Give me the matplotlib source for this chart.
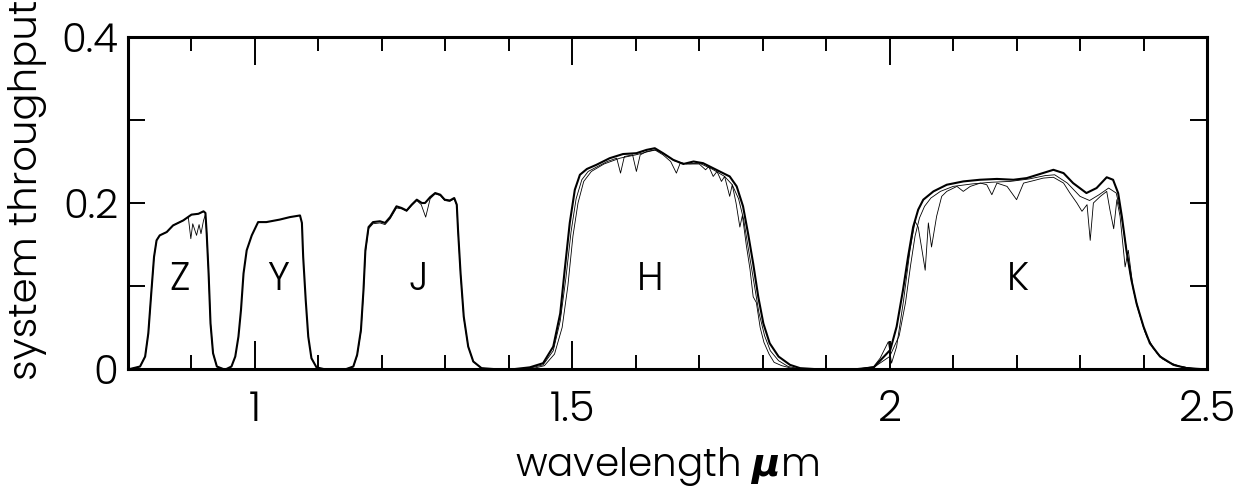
import matplotlib
matplotlib.use("Agg")
import matplotlib.pyplot as plt
from matplotlib.ticker import MultipleLocator

plt.rcParams["font.family"] = ["Poppins", "DejaVu Sans"]
plt.rcParams["font.weight"] = 300
plt.rcParams["mathtext.fontset"] = "dejavusans"

z_wl = [0.803, 0.819, 0.827, 0.832, 0.837, 0.841, 0.845, 0.850, 0.861, 0.871, 0.887, 0.900,
        0.911, 0.919, 0.922, 0.924, 0.927, 0.930, 0.934, 0.940, 0.950]
z_tp = [0.0, 0.003, 0.015, 0.043, 0.095, 0.135, 0.155, 0.161, 0.165, 0.173, 0.179, 0.186,
        0.187, 0.190, 0.188, 0.163, 0.115, 0.055, 0.019, 0.003, 0.0]
z_atm_wl = [0.803, 0.819, 0.827, 0.832, 0.837, 0.841, 0.845, 0.850, 0.861, 0.871, 0.887, 0.895,
            0.899, 0.902, 0.908, 0.912, 0.915, 0.919, 0.922, 0.924, 0.927, 0.930, 0.934, 0.940, 0.950]
z_atm_tp = [0.0, 0.003, 0.015, 0.043, 0.095, 0.135, 0.155, 0.161, 0.165, 0.173, 0.179, 0.183,
            0.157, 0.175, 0.161, 0.174, 0.163, 0.179, 0.186, 0.163, 0.115, 0.055, 0.019, 0.003, 0.0]

y_wl = [0.955, 0.963, 0.969, 0.974, 0.978, 0.982, 0.987, 0.995, 1.005, 1.018, 1.039, 1.055,
        1.071, 1.074, 1.076, 1.080, 1.084, 1.089, 1.097, 1.108]
y_tp = [0.0, 0.003, 0.015, 0.039, 0.071, 0.115, 0.143, 0.161, 0.177, 0.177, 0.180, 0.183,
        0.185, 0.176, 0.135, 0.083, 0.039, 0.013, 0.002, 0.0]

j_wl = [1.144, 1.155, 1.161, 1.167, 1.171, 1.174, 1.179, 1.186, 1.197, 1.205, 1.213, 1.223,
        1.231, 1.239, 1.247, 1.255, 1.263, 1.268, 1.276, 1.284, 1.292, 1.299, 1.307, 1.314,
        1.318, 1.320, 1.324, 1.329, 1.336, 1.344, 1.357, 1.375]
j_tp = [0.0, 0.003, 0.017, 0.047, 0.095, 0.143, 0.171, 0.177, 0.178, 0.176, 0.183, 0.196,
        0.194, 0.191, 0.198, 0.204, 0.200, 0.200, 0.207, 0.212, 0.210, 0.204, 0.203, 0.206,
        0.198, 0.167, 0.115, 0.063, 0.027, 0.009, 0.001, 0.0]
j_atm_wl = [1.144, 1.155, 1.161, 1.167, 1.171, 1.174, 1.179, 1.186, 1.197, 1.205, 1.213, 1.223,
            1.231, 1.239, 1.247, 1.255, 1.262, 1.269, 1.276, 1.284, 1.292, 1.299, 1.307, 1.314,
            1.318, 1.320, 1.324, 1.329, 1.336, 1.344, 1.357, 1.375]
j_atm_tp = [0.0, 0.003, 0.016, 0.045, 0.092, 0.140, 0.169, 0.175, 0.176, 0.174, 0.181, 0.194,
            0.193, 0.190, 0.197, 0.203, 0.198, 0.183, 0.205, 0.211, 0.209, 0.203, 0.202, 0.205,
            0.197, 0.166, 0.114, 0.062, 0.027, 0.009, 0.001, 0.0]

h_wl = [1.410, 1.433, 1.454, 1.470, 1.481, 1.488, 1.496, 1.504, 1.512, 1.523, 1.538, 1.559,
        1.580, 1.601, 1.617, 1.630, 1.643, 1.659, 1.675, 1.691, 1.706, 1.727, 1.748, 1.759,
        1.769, 1.777, 1.785, 1.793, 1.801, 1.811, 1.825, 1.843, 1.859, 1.880]
h_tp = [0.0, 0.002, 0.007, 0.027, 0.067, 0.119, 0.176, 0.216, 0.234, 0.241, 0.246, 0.254,
        0.259, 0.260, 0.264, 0.266, 0.260, 0.252, 0.247, 0.250, 0.248, 0.240, 0.232, 0.220,
        0.196, 0.163, 0.127, 0.087, 0.055, 0.031, 0.015, 0.005, 0.001, 0.0]
h_atm_wl = [1.420, 1.433, 1.454, 1.470, 1.481, 1.490, 1.498, 1.506, 1.515, 1.525, 1.540, 1.555,
            1.570, 1.576, 1.582, 1.595, 1.601, 1.607, 1.617, 1.630, 1.643, 1.655, 1.664, 1.670,
            1.685, 1.700, 1.710, 1.715, 1.722, 1.728, 1.735, 1.740, 1.748, 1.752, 1.758, 1.764,
            1.768, 1.774, 1.780, 1.785, 1.790, 1.796, 1.802, 1.810, 1.818, 1.830, 1.845, 1.860]
h_atm_tp = [0.0, 0.001, 0.005, 0.022, 0.058, 0.110, 0.165, 0.205, 0.228, 0.238, 0.244, 0.250,
            0.254, 0.236, 0.256, 0.258, 0.238, 0.258, 0.262, 0.264, 0.258, 0.250, 0.236, 0.248,
            0.247, 0.247, 0.240, 0.244, 0.232, 0.238, 0.226, 0.232, 0.208, 0.222, 0.200, 0.171,
            0.185, 0.150, 0.120, 0.087, 0.080, 0.050, 0.032, 0.018, 0.008, 0.004, 0.001, 0.0]
h_obs_wl = [1.420, 1.440, 1.456, 1.472, 1.484, 1.493, 1.501, 1.509, 1.518, 1.530, 1.550, 1.575,
            1.600, 1.620, 1.632, 1.645, 1.660, 1.680, 1.700, 1.720, 1.740, 1.752, 1.762, 1.770,
            1.778, 1.786, 1.794, 1.803, 1.812, 1.825, 1.840, 1.860]
h_obs_tp = [0.0, 0.001, 0.004, 0.018, 0.050, 0.100, 0.160, 0.200, 0.226, 0.238, 0.247, 0.254,
            0.258, 0.262, 0.264, 0.259, 0.251, 0.247, 0.248, 0.241, 0.232, 0.222, 0.205, 0.180,
            0.142, 0.105, 0.068, 0.040, 0.022, 0.010, 0.003, 0.0]

k_wl = [1.950, 1.975, 2.001, 2.011, 2.021, 2.029, 2.037, 2.045, 2.053, 2.069, 2.090, 2.116,
        2.142, 2.169, 2.195, 2.216, 2.237, 2.258, 2.274, 2.289, 2.310, 2.326, 2.342, 2.352,
        2.360, 2.366, 2.373, 2.381, 2.389, 2.400, 2.410, 2.426, 2.447, 2.468, 2.489]
k_tp = [0.0, 0.002, 0.023, 0.051, 0.095, 0.135, 0.171, 0.192, 0.204, 0.214, 0.222, 0.226,
        0.228, 0.229, 0.228, 0.230, 0.235, 0.240, 0.236, 0.224, 0.212, 0.218, 0.231, 0.228,
        0.212, 0.183, 0.143, 0.107, 0.079, 0.051, 0.031, 0.015, 0.005, 0.001, 0.0]
k_atm_wl = [1.950, 1.975, 1.985, 1.998, 2.003, 2.011, 2.022, 2.032, 2.040, 2.045, 2.051, 2.056,
            2.061, 2.066, 2.074, 2.082, 2.090, 2.106, 2.116, 2.127, 2.143, 2.153, 2.161, 2.169,
            2.185, 2.200, 2.211, 2.227, 2.242, 2.258, 2.274, 2.284, 2.295, 2.303, 2.311, 2.316,
            2.321, 2.332, 2.342, 2.347, 2.353, 2.358, 2.363, 2.371, 2.376, 2.384, 2.395, 2.405,
            2.421, 2.437, 2.458, 2.484]
k_atm_tp = [0.0, 0.003, 0.013, 0.033, 0.007, 0.027, 0.083, 0.143, 0.178, 0.171, 0.143, 0.119,
            0.176, 0.147, 0.184, 0.208, 0.214, 0.220, 0.214, 0.220, 0.224, 0.222, 0.210, 0.224,
            0.220, 0.204, 0.224, 0.227, 0.230, 0.231, 0.224, 0.212, 0.200, 0.190, 0.198, 0.155,
            0.200, 0.208, 0.214, 0.192, 0.169, 0.204, 0.184, 0.123, 0.143, 0.095, 0.063, 0.039,
            0.019, 0.009, 0.003, 0.0]
k_obs_wl = [1.950, 1.975, 2.000, 2.015, 2.025, 2.033, 2.040, 2.047, 2.055, 2.065, 2.080, 2.100,
            2.130, 2.160, 2.190, 2.220, 2.245, 2.260, 2.280, 2.300, 2.315, 2.330, 2.345, 2.357,
            2.365, 2.372, 2.380, 2.390, 2.402, 2.415, 2.430, 2.450, 2.475, 2.500]
k_obs_tp = [0.0, 0.002, 0.015, 0.040, 0.080, 0.125, 0.160, 0.182, 0.196, 0.206, 0.214, 0.220,
            0.223, 0.225, 0.226, 0.229, 0.233, 0.234, 0.224, 0.208, 0.203, 0.210, 0.218, 0.212,
            0.185, 0.150, 0.110, 0.075, 0.045, 0.025, 0.012, 0.004, 0.001, 0.0]

band_names = ["Z", "Y", "J", "H", "K"]
band_x = [0.882, 1.036, 1.257, 1.622, 2.202]
band_y = 0.107

fig = plt.figure(figsize=(12.57, 4.91), dpi=100)
ax = fig.add_axes([128 / 1257, 1 - 369 / 491, (1207 - 128) / 1257, (369 - 37) / 491])

thin = dict(color="black", linewidth=0.6)
thick = dict(color="black", linewidth=1.5)
for wl, tp in [(z_atm_wl, z_atm_tp), (j_atm_wl, j_atm_tp), (h_atm_wl, h_atm_tp),
               (h_obs_wl, h_obs_tp), (k_atm_wl, k_atm_tp), (k_obs_wl, k_obs_tp)]:
    ax.plot(wl, tp, **thin)
for wl, tp in [(z_wl, z_tp), (y_wl, y_tp), (j_wl, j_tp), (h_wl, h_tp), (k_wl, k_tp)]:
    ax.plot(wl, tp, **thick)

for name, bx in zip(band_names, band_x):
    ax.text(bx, band_y, name, fontsize=28, ha="center", va="center")

ax.set_xlim(0.8, 2.5)
ax.set_ylim(0, 0.4)
ax.xaxis.set_minor_locator(MultipleLocator(0.1))
ax.yaxis.set_minor_locator(MultipleLocator(0.1))
ax.set_xticks([1.0, 1.5, 2.0, 2.5])
ax.set_xticklabels(["1", "1.5", "2", "2.5"])
ax.set_yticks([0, 0.2, 0.4])
ax.set_yticklabels(["0", "0.2", "0.4"])
ax.tick_params(axis="both", which="both", direction="in", top=True, right=True, width=1.4)
ax.tick_params(axis="x", which="major", length=20, pad=15, labelsize=30)
ax.tick_params(axis="x", which="minor", length=10)
ax.tick_params(axis="y", which="major", length=12, pad=7, labelsize=29)
ax.tick_params(axis="y", which="minor", length=12)
for sp in ax.spines.values():
    sp.set_linewidth(2.2)

fig.text(667 / 1257, 1 - 466 / 491, "wavelength $\\boldsymbol{\\mu}$m", fontsize=28,
         ha="center", va="center")
fig.text(28 / 1257, 1 - 380 / 491, "system throughput", fontsize=29, rotation=90,
         ha="center", va="bottom")

fig.savefig("out.png", dpi=100)
plt.close(fig)
